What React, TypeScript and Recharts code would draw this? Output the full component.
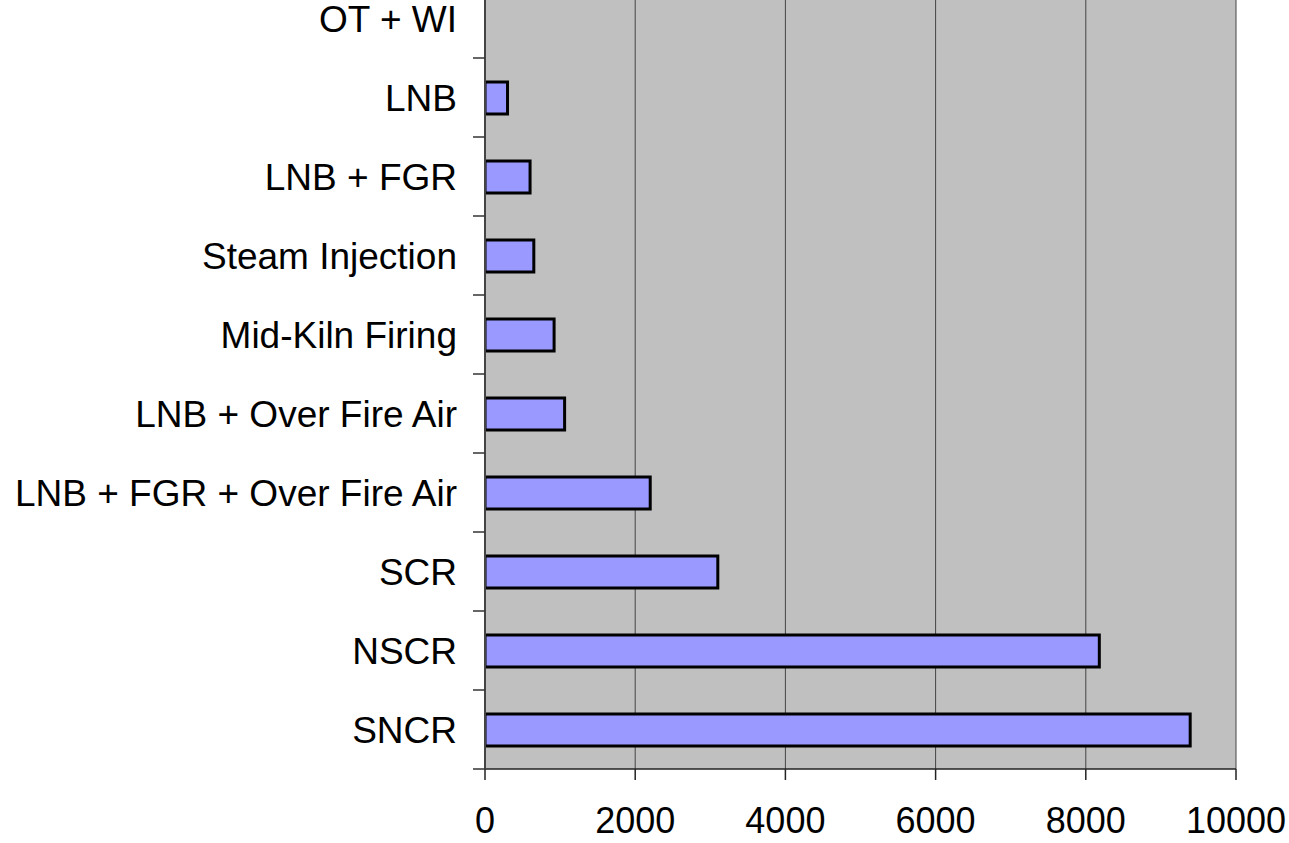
/**
 * NOx control technology bar chart
 * Recharts horizontal bars, Excel-style grey plot area
 */

import { BarChart, Bar, XAxis, YAxis, CartesianGrid } from 'recharts'

const technologies = [
  'OT + WI',
  'LNB',
  'LNB + FGR',
  'Steam Injection',
  'Mid-Kiln Firing',
  'LNB + Over Fire Air',
  'LNB + FGR + Over Fire Air',
  'SCR',
  'NSCR',
  'SNCR',
]

const costValues = [0, 300, 600, 650, 920, 1060, 2200, 3100, 8180, 9390]

const xTicks = [0, 2000, 4000, 6000, 8000, 10000]

const data = technologies.map((name, i) => ({ name, value: costValues[i] }))

// layout constants
const CHART_W = 1289
const CHART_H = 864
const PLOT_H = 790
const BAND = PLOT_H / technologies.length
const FONT = '"Liberation Sans", Arial, sans-serif'

// y tick: label at band centre, tick mark at band boundary (Excel style)
function CategoryTick({ x, y, payload }: { x?: number; y?: number; payload?: { value: string } }) {
  if (x == null || y == null) return null
  return (
    <g>
      <line x1={x - 12} x2={x} y1={y + BAND / 2} y2={y + BAND / 2} stroke="#333" strokeWidth={1.5} />
      <text
        x={x - 28}
        y={y}
        dy="0.36em"
        textAnchor="end"
        fontSize={37}
        fontFamily={FONT}
        fill="#000"
      >
        {payload?.value}
      </text>
    </g>
  )
}

export default function App() {
  return (
    <div style={{ position: 'absolute', left: 0, top: -21, width: CHART_W, height: CHART_H }}>
      <BarChart
        width={CHART_W}
        height={CHART_H}
        data={data}
        layout="vertical"
        margin={{ top: 0, right: 53, left: 0, bottom: 0 }}
        barCategoryGap={0}
      >
        {/* grey plot area + vertical gridlines */}
        <CartesianGrid
          fill="#C0C0C0"
          fillOpacity={1}
          stroke="#444"
          strokeWidth={1}
          horizontal={false}
          vertical={true}
        />

        <XAxis
          type="number"
          domain={[0, 10000]}
          ticks={xTicks}
          allowDataOverflow
          height={CHART_H - PLOT_H}
          axisLine={{ stroke: '#222', strokeWidth: 1.5 }}
          tickLine={{ stroke: '#222', strokeWidth: 1.5 }}
          tickSize={11}
          tickMargin={27}
          tick={{ fill: '#000', fontSize: 36, fontFamily: FONT }}
          interval={0}
        />

        <YAxis
          type="category"
          dataKey="name"
          width={485}
          axisLine={{ stroke: '#444', strokeWidth: 2 }}
          tickLine={false}
          tickSize={0}
          tickMargin={0}
          tick={<CategoryTick />}
          interval={0}
        />

        <Bar
          dataKey="value"
          fill="#9999FF"
          stroke="#000"
          strokeWidth={3}
          barSize={32}
          isAnimationActive={false}
        />
      </BarChart>
    </div>
  )
}
